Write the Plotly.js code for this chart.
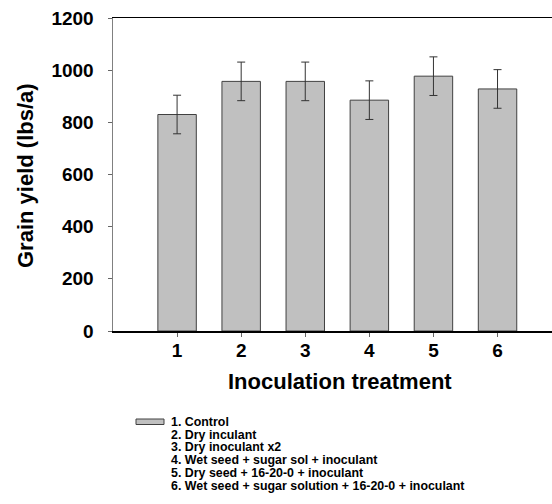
<!DOCTYPE html>
<html>
<head>
<meta charset="utf-8">
<script src="https://cdn.plot.ly/plotly-3.0.1.min.js"></script>
<style>html,body{margin:0;padding:0;background:#fff;}#chart{width:552px;height:504px;}</style>
</head>
<body>
<div id="chart"></div>
<script>
// ---- data ----
const treatments = [1, 2, 3, 4, 5, 6];
const grainYield = [830, 957, 957, 885, 977, 928];
const yieldError = [74, 74, 74, 74, 74, 74];
const treatmentLabels = [
  "1. Control",
  "2. Dry inculant",
  "3. Dry inoculant x2",
  "4. Wet seed + sugar sol + inoculant",
  "5. Dry seed + 16-20-0 + inoculant",
  "6. Wet seed + sugar solution + 16-20-0 + inoculant"
];
const yTicks = [0, 200, 400, 600, 800, 1000, 1200];
const xTitle = "Inoculation treatment";
const yTitle = "Grain yield (lbs/a)";

// ---- layout helpers ----
const W = 552, H = 504;
const M = {l: 113, r: 0, t: 18, b: 173};
const pw = W - M.l - M.r, ph = H - M.t - M.b;
const px2x = px => (px - M.l) / pw;
const py2y = py => (H - M.b - py) / ph;
const FONT = "Arial, 'Liberation Sans', sans-serif";

const trace = {
  type: "bar",
  x: treatments,
  y: grainYield,
  width: 0.6,
  marker: {color: "#c0c0c0", line: {color: "#404040", width: 1}},
  error_y: {type: "data", array: yieldError, visible: true, color: "#333333", thickness: 1, width: 4},
  showlegend: false,
  hoverinfo: "x+y"
};

const annotations = [
  {text: "<b>" + xTitle + "</b>", xref: "paper", yref: "paper", x: px2x(340), y: py2y(381),
   xanchor: "center", yanchor: "middle", showarrow: false, font: {family: FONT, size: 22, color: "#000"}},
  {text: "<b>" + yTitle + "</b>", xref: "paper", yref: "paper", x: px2x(25), y: py2y(176), textangle: -90,
   xanchor: "center", yanchor: "middle", showarrow: false, font: {family: FONT, size: 22, color: "#000"}}
];
treatmentLabels.forEach((lab, i) => {
  annotations.push({
    text: "<b>" + lab + "</b>", xref: "paper", yref: "paper",
    x: px2x(169), y: py2y(422 + i * 12.7), xanchor: "left", yanchor: "middle",
    showarrow: false, font: {family: FONT, size: 12.4, color: "#000"}
  });
});

const layout = {
  width: W, height: H,
  margin: M,
  paper_bgcolor: "#fff", plot_bgcolor: "#fff",
  font: {family: FONT, color: "#000"},
  bargap: 0.4,
  xaxis: {
    range: [0, 6.85], tickvals: treatments, ticktext: treatments.map(String),
    showgrid: false, zeroline: false,
    showline: true, linecolor: "#000", linewidth: 1.5, mirror: true,
    ticks: "outside", ticklen: 4, tickcolor: "#666", tickwidth: 1,
    ticklabelstandoff: -2,
    tickfont: {family: FONT, size: 19, color: "#000", weight: "bold"},
    fixedrange: true
  },
  yaxis: {
    range: [0, 1200], tickvals: yTicks,
    showgrid: false, zeroline: false,
    showline: true, linecolor: "#808080", linewidth: 1.5, mirror: false,
    ticks: "outside", ticklen: 4, tickcolor: "#666", tickwidth: 1,
    ticklabelstandoff: 10,
    tickfont: {family: FONT, size: 19, color: "#000", weight: "bold"},
    fixedrange: true
  },
  shapes: [
    {type: "rect", xref: "paper", yref: "paper",
     x0: px2x(136), x1: px2x(164), y0: py2y(419), y1: py2y(424.5),
     fillcolor: "#c0c0c0", line: {color: "#404040", width: 1}}
  ],
  annotations: annotations,
  showlegend: false
};

Plotly.newPlot("chart", [trace], layout, {displayModeBar: false, staticPlot: true});
</script>
</body>
</html>
